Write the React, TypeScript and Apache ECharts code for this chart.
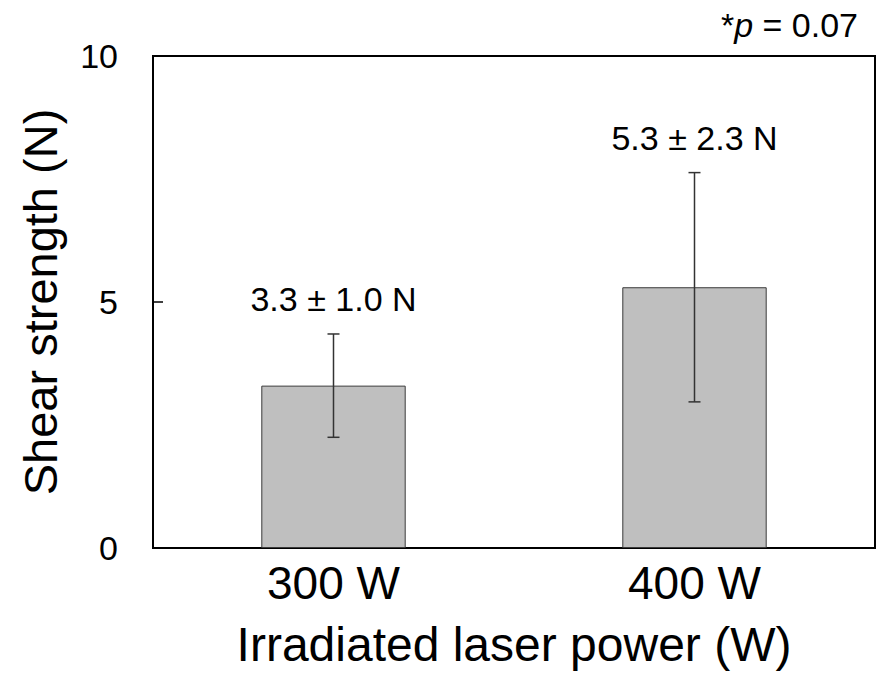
import React, { useEffect, useRef } from "react";
import * as echarts from "echarts";

const categories = ["300 W", "400 W"];
const means = [3.3, 5.3];
const sds = [1.05, 2.33];
const valueLabels = ["3.3 ± 1.0 N", "5.3 ± 2.3 N"];
const yTicks = { min: 0, max: 10, interval: 5 };

const FONT = "'Liberation Sans', Arial, Helvetica, sans-serif";

export default function App() {
  const ref = useRef<HTMLDivElement>(null);

  useEffect(() => {
    document.body.style.margin = "0";
    if (!ref.current) return;
    const chart = echarts.init(ref.current, undefined, { renderer: "svg" });
    const errData = means.map((m, i) => [i, m - sds[i], m + sds[i]]);

    chart.setOption({
      animation: false,
      backgroundColor: "#ffffff",
      grid: {
        left: 153,
        right: 2,
        top: 56,
        bottom: 133,
        show: true,
        borderColor: "#000",
        borderWidth: 2,
      },
      xAxis: {
        type: "category",
        data: categories,
        axisLine: { lineStyle: { color: "#000", width: 2 } },
        axisTick: { show: false },
        axisLabel: { color: "#000", fontSize: 46, fontFamily: FONT, margin: 12 },
        name: "Irradiated laser power (W)",
        nameLocation: "middle",
        nameGap: 72,
        nameTextStyle: { color: "#000", fontSize: 48, fontFamily: FONT },
      },
      yAxis: {
        type: "value",
        min: yTicks.min,
        max: yTicks.max,
        interval: yTicks.interval,
        splitLine: { show: false },
        axisLine: { show: true, lineStyle: { color: "#000", width: 2 } },
        axisTick: { show: true, inside: true, length: 10, lineStyle: { color: "#000", width: 1.5 } },
        axisLabel: { color: "#000", fontSize: 34, fontFamily: FONT, margin: 35 },
        name: "Shear strength (N)",
        nameLocation: "middle",
        nameGap: 89,
        nameTextStyle: { color: "#000", fontSize: 47, fontFamily: FONT },
      },
      graphic: [
        {
          type: "text",
          right: 19,
          top: 8,
          style: {
            text: "{a|*}{b|p}{a| = 0.07}",
            rich: {
              a: { fontSize: 34, fontFamily: FONT, fill: "#000" },
              b: { fontSize: 34, fontFamily: FONT, fontStyle: "italic", fill: "#000" },
            },
          },
        },
      ],
      series: [
        {
          type: "bar",
          data: means,
          barWidth: "40%",
          itemStyle: { color: "#bfbfbf", borderColor: "#3a3a3a", borderWidth: 1 },
        },
        {
          type: "custom",
          data: errData,
          clip: false,
          z: 10,
          renderItem: (params: any, api: any) => {
            const idx = api.value(0);
            const lo = api.coord([idx, api.value(1)]);
            const hi = api.coord([idx, api.value(2)]);
            const cx = lo[0];
            const hw = 6;
            const ls = { stroke: "#333", lineWidth: 1.5 };
            return {
              type: "group",
              children: [
                { type: "line", shape: { x1: cx, y1: lo[1], x2: cx, y2: hi[1] }, style: ls },
                { type: "line", shape: { x1: cx - hw, y1: lo[1], x2: cx + hw, y2: lo[1] }, style: ls },
                { type: "line", shape: { x1: cx - hw, y1: hi[1], x2: cx + hw, y2: hi[1] }, style: ls },
                {
                  type: "text",
                  x: cx,
                  y: hi[1] - 35,
                  style: {
                    text: valueLabels[params.dataIndex],
                    textAlign: "center",
                    textVerticalAlign: "middle",
                    align: "center",
                    verticalAlign: "middle",
                    fontSize: 34,
                    fontFamily: FONT,
                    fill: "#000",
                  },
                },
              ],
            };
          },
        },
      ],
    });

    return () => chart.dispose();
  }, []);

  return <div ref={ref} style={{ width: 877, height: 681 }} />;
}
